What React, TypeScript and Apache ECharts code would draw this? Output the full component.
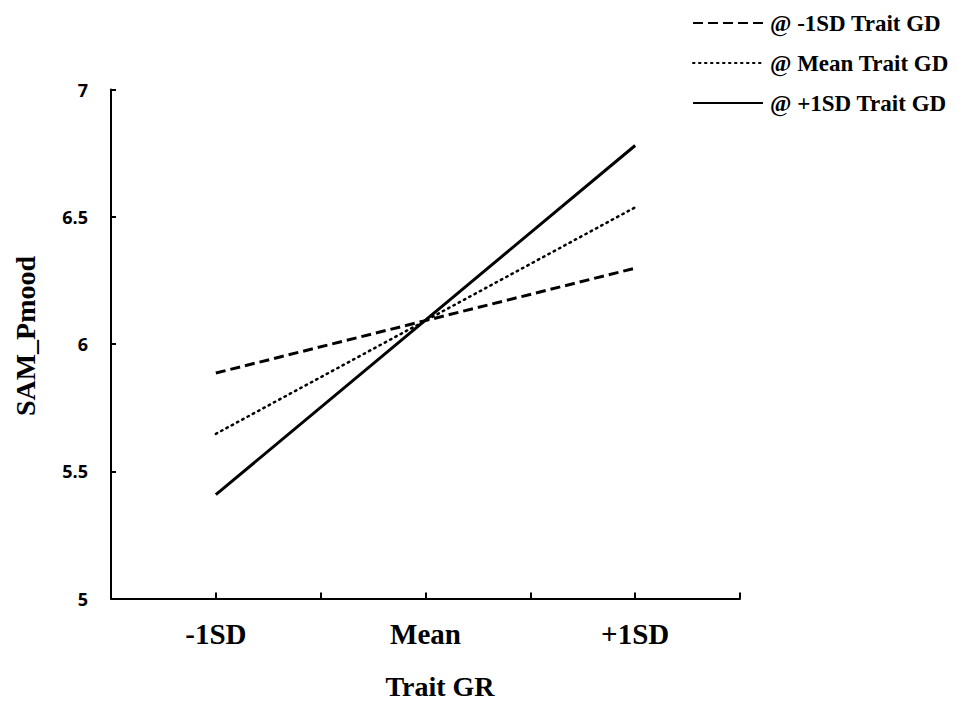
import React, { useEffect, useRef } from "react";
import * as echarts from "echarts";

const categories = ["-1SD", "Mean", "+1SD"];
const seriesNames = ["@ -1SD Trait GD", "@ Mean Trait GD", "@ +1SD Trait GD"];
const lowGD = [5.886, 6.092, 6.298];
const meanGD = [5.647, 6.092, 6.537];
const highGD = [5.408, 6.094, 6.78];
const yTicks = { min: 5, max: 7, interval: 0.5 };
const xTitle = "Trait GR";
const yTitle = "SAM_Pmood";

const serif = "'Liberation Serif', 'Times New Roman', serif";

export default function App() {
  const ref = useRef<HTMLDivElement>(null);
  useEffect(() => {
    if (!ref.current) return;
    const chart = echarts.init(ref.current, null, { renderer: "svg" });
    const toData = (arr: number[]) => arr.map((v, i) => [i, v]);
    const styles = [
      { type: [10, 5], width: 3, cap: "butt" },
      { type: [1.5, 4.5], width: 2.5, cap: "round" },
      { type: "solid", width: 3, cap: "butt" },
    ];
    const values = [lowGD, meanGD, highGD];
    chart.setOption({
      animation: false,
      backgroundColor: "#ffffff",
      grid: { left: 111, right: 218, top: 89.5, bottom: 106.5 },
      legend: {
        orient: "vertical",
        left: 687,
        top: 6,
        itemWidth: 70,
        itemHeight: 14,
        itemGap: 16,
        data: seriesNames,
        itemStyle: { opacity: 0, borderWidth: 0 },
        textStyle: {
          fontFamily: serif,
          fontWeight: "bold",
          fontSize: 23,
          lineHeight: 24,
          color: "#000",
          padding: [0, 0, 0, 2],
        },
      },
      xAxis: {
        type: "value",
        min: -0.5,
        max: 2.5,
        interval: 0.5,
        splitLine: { show: false },
        axisLine: { show: true, onZero: false, lineStyle: { color: "#000", width: 2 } },
        axisTick: { show: true, inside: true, length: 6, lineStyle: { color: "#000", width: 2 } },
        axisLabel: {
          margin: 21,
          fontFamily: serif,
          fontWeight: "bold",
          fontSize: 29,
          color: "#000",
          showMinLabel: true,
          showMaxLabel: true,
          formatter: (v: number) => (Number.isInteger(v) && categories[v] !== undefined ? categories[v] : ""),
        },
      },
      yAxis: {
        type: "value",
        min: yTicks.min,
        max: yTicks.max,
        interval: yTicks.interval,
        splitLine: { show: false },
        axisLine: { show: true, onZero: false, lineStyle: { color: "#000", width: 2 } },
        axisTick: { show: true, inside: true, length: 5, lineStyle: { color: "#000", width: 2 } },
        axisLabel: {
          margin: 23,
          fontFamily: "'Open Sans', 'Liberation Sans', sans-serif",
          fontWeight: 700,
          fontSize: 18,
          color: "#000",
        },
      },
      graphic: [
        {
          type: "text",
          x: 25,
          y: 336,
          rotation: Math.PI / 2,
          style: {
            text: yTitle,
            fontFamily: serif,
            fontWeight: "bold",
            fontSize: 28,
            fill: "#000",
            align: "center",
            verticalAlign: "middle",
          },
        },
        {
          type: "text",
          x: 440,
          y: 686,
          style: {
            text: xTitle,
            fontFamily: serif,
            fontWeight: "bold",
            fontSize: 28,
            fill: "#000",
            align: "center",
            verticalAlign: "middle",
          },
        },
      ],
      series: values.map((arr, i) => ({
        name: seriesNames[i],
        type: "line",
        data: toData(arr),
        symbol: "none",
        color: "#000",
        lineStyle: { color: "#000", ...styles[i] },
      })),
    });
    return () => chart.dispose();
  }, []);
  return (
    <div
      ref={ref}
      style={{ position: "fixed", left: 0, top: 0, width: 958, height: 705, background: "#fff" }}
    />
  );
}
